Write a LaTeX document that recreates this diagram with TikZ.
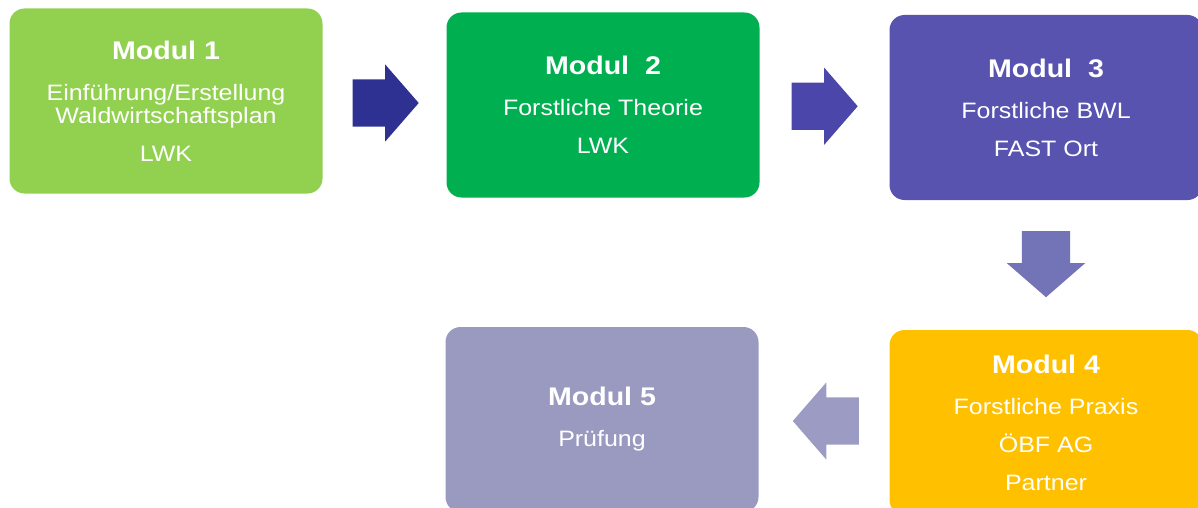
\documentclass[tikz,border=0pt]{standalone}
\usepackage{fontspec}
\setmainfont{Liberation Sans}[FakeStretch=1.12]
\usetikzlibrary{shapes.arrows,positioning,calc}

\definecolor{modone}{HTML}{92D050}
\definecolor{modtwo}{HTML}{00B050}
\definecolor{modthree}{HTML}{5753AE}
\definecolor{modfour}{HTML}{FFC000}
\definecolor{modfive}{HTML}{9A9AC0}
\definecolor{arrone}{HTML}{2E3192}
\definecolor{arrtwo}{HTML}{4B47AA}
\definecolor{arrthree}{HTML}{7373B8}
\definecolor{arrfour}{HTML}{9B9BC3}

\newcommand{\modtitle}[1]{{\fontsize{25.5}{38}\selectfont\bfseries #1}}

\tikzset{
  modul/.style={rectangle, rounded corners=15pt, minimum width=313pt,
    minimum height=185pt, inner sep=0pt, text=white, align=center,
    font=\fontsize{22.3}{38}\selectfont},
  blockarrow/.style={single arrow, single arrow tip angle=98,
    single arrow head extend=15pt, minimum height=66pt,
    inner xsep=0pt, inner ysep=23.5pt, anchor=tail},
  downarrow/.style={blockarrow, shape border rotate=270,
    inner xsep=24pt, inner ysep=0pt}
}

\begin{document}
\begin{tikzpicture}[x=1pt,y=-1pt,on grid]
   \useasboundingbox (0,0) rectangle (1198,508);
   % boxes
   \node[modul,fill=modone] (m1) at (166,101)
      {\modtitle{Modul 1}\\[3pt]Einführung/Erstellung\\[-15pt]Waldwirtschaftsplan\\LWK};
   \node[modul,fill=modtwo] (m2) [right=437pt of m1,yshift=-4pt]
      {\modtitle{Modul~~2}\\[3pt]Forstliche Theorie\\LWK};
   \node[modul,fill=modthree] (m3) [right=443pt of m2,yshift=-2.5pt]
      {\modtitle{Modul~~3}\\[3pt]Forstliche BWL\\FAST Ort};
   \node[modul,fill=modfour] (m4) [below=315pt of m3]
      {\modtitle{Modul 4}\\[3pt]Forstliche Praxis\\ÖBF AG\\Partner};
   \node[modul,fill=modfive] (m5) [left=444pt of m4,yshift=3pt]
      {\modtitle{Modul 5}\\[3pt]Prüfung};
   % arrows
   \node[blockarrow,fill=arrone,xshift=-32pt] (p12)
      at ($(m1.east)!0.5!(m2.west)$) {};
   \node[blockarrow,fill=arrtwo,xshift=-33pt] (p23)
      at ($(m2.east)!0.5!(m3.west)$) {};
   \node[downarrow,fill=arrthree,yshift=34pt] (p34)
      at ($(m3.south)!0.5!(m4.north)$) {};
   \node[blockarrow,fill=arrfour,shape border rotate=180,xshift=35pt] (p45)
      at ($(m4.west)!0.5!(m5.east)$) {};
\end{tikzpicture}
\end{document}
